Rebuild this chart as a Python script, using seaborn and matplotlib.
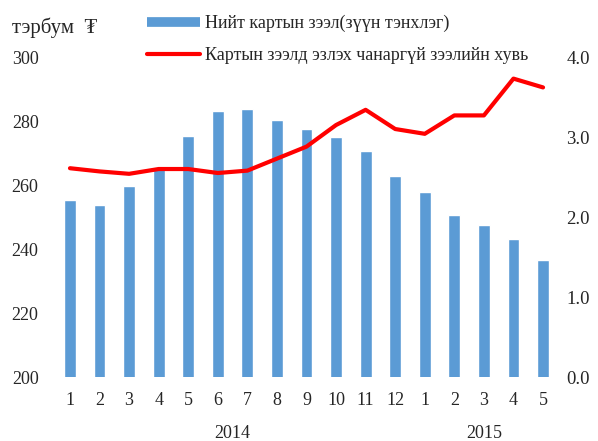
import matplotlib
matplotlib.use("Agg")
import matplotlib.pyplot as plt
import seaborn as sns
import numpy as np
import pandas as pd
from matplotlib.lines import Line2D

months = ["1", "2", "3", "4", "5", "6", "7", "8", "9", "10", "11", "12", "1", "2", "3", "4", "5"]
years = ["2014", "2015"]
year_groups = [(0, 11), (12, 16)]
loans = [255.3, 253.8, 259.6, 265.0, 275.2, 283.0, 283.6, 280.3, 277.5, 275.0,
         270.6, 262.7, 257.7, 250.6, 247.4, 243.1, 236.5]
npl_share = [2.61, 2.57, 2.54, 2.60, 2.60, 2.55, 2.58, 2.73, 2.88, 3.15,
             3.34, 3.10, 3.04, 3.27, 3.27, 3.73, 3.62]
bar_label = "Нийт картын зээл(зүүн тэнхлэг)"
line_label = "Картын зээлд эзлэх чанаргүй зээлийн хувь"
unit_label = "тэрбум  ₮"

sns.set_style("white")
plt.rcParams['font.family'] = ['Liberation Serif', 'DejaVu Serif', 'DejaVu Sans']
plt.rcParams['font.size'] = 13

df = pd.DataFrame({"pos": np.arange(len(months)), "loans": loans, "npl": npl_share})

fig = plt.figure(figsize=(5.98, 4.41), dpi=100)
ax = fig.add_axes([0.0923, 0.1451, 0.8405, 0.7256])
blue = "#5B9BD5"
red = "#FF0000"
sns.barplot(data=df, x="pos", y="loans", color=blue, width=0.4, ax=ax, saturation=1)
ax.set_ylim(200, 300)
ax.set_yticks(np.arange(200, 301, 20))
ax.set_xlim(-0.5, len(months) - 0.5)
ax.set_xticks(np.arange(len(months)))
ax.set_xticklabels(months)
ax.set_xlabel("")
ax.set_ylabel("")
ax.tick_params(axis="y", length=0, pad=12, labelsize=13)
ax.tick_params(axis="x", length=0, pad=11, labelsize=13)

ax2 = ax.twinx()
sns.lineplot(data=df, x="pos", y="npl", color=red, linewidth=3, ax=ax2)
ax2.set_ylim(0, 4)
ax2.set_yticks(np.arange(0, 4.01, 1))
ax2.set_yticklabels([f"{v:.1f}" for v in np.arange(0, 4.01, 1)])
ax2.set_ylabel("")
ax2.set_xlabel("")
ax2.tick_params(axis="y", length=0, pad=6, labelsize=13.5)
ax2.set_xlim(-0.5, len(months) - 0.5)

for a in (ax, ax2):
    for s in a.spines.values():
        s.set_visible(False)
    a.grid(False)

trans = matplotlib.transforms.blended_transform_factory(ax.transData, fig.transFigure)
for yr, (a0, a1) in zip(years, year_groups):
    ax.text((a0 + a1) / 2, 0.016, yr, transform=trans, ha="center", va="center", fontsize=13)

fig.text(0.02, 0.925, unit_label, ha="left", va="baseline", fontsize=15)

handles = [Line2D([0], [0], color=blue, lw=7, solid_capstyle="butt"),
           Line2D([0], [0], color=red, lw=3)]
fig.legend(handles, [bar_label, line_label], loc="upper left",
           bbox_to_anchor=(0.246, 0.966), frameon=False, borderpad=0,
           borderaxespad=0, handlelength=2.94, handletextpad=0.28,
           labelspacing=0.82, fontsize=13)

fig.savefig("out.png", dpi=100)
